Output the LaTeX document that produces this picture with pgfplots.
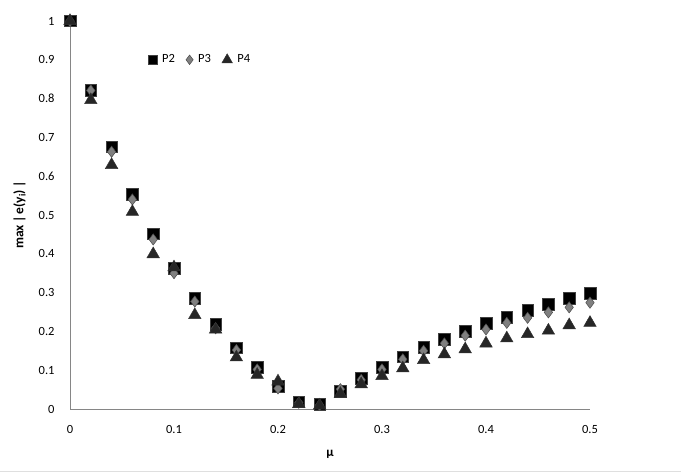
\documentclass[border=0pt]{standalone}
\usepackage{pgfplots}
\pgfplotsset{compat=1.18}
\usepackage{fontspec}
\setmainfont{Carlito}

\definecolor{axgray}{RGB}{134,134,134}
\definecolor{sqblack}{RGB}{0,0,0}
\definecolor{dmgray}{RGB}{128,128,128}
\definecolor{trdark}{RGB}{38,38,38}

\pgfplotstableread{
mu    p2     p3     p4
0.00  1.000  1.000  1.000
0.02  0.821  0.821  0.796
0.04  0.676  0.663  0.629
0.06  0.553  0.540  0.508
0.08  0.452  0.437  0.399
0.10  0.363  0.350  0.365
0.12  0.285  0.277  0.242
0.14  0.219  0.208  0.205
0.16  0.158  0.152  0.133
0.18  0.107  0.102  0.088
0.20  0.059  0.053  0.071
0.22  0.019  0.016  0.013
0.24  0.012  0.010  0.009
0.26  0.045  0.051  0.039
0.28  0.079  0.075  0.064
0.30  0.108  0.102  0.085
0.32  0.135  0.128  0.105
0.34  0.159  0.150  0.126
0.36  0.180  0.169  0.141
0.38  0.201  0.189  0.154
0.40  0.221  0.205  0.169
0.42  0.236  0.222  0.182
0.44  0.255  0.235  0.193
0.46  0.270  0.249  0.202
0.48  0.285  0.262  0.216
0.50  0.298  0.274  0.222
}\errdata

\begin{document}
\fontsize{12.5}{15}\selectfont
\begin{tikzpicture}[x=1pt,y=1pt]
\path[use as bounding box] (0,0) rectangle (681,473);
\draw[gray!25, line width=1pt] (0,1.5) -- (681,1.5);
\begin{axis}[
  at={(70pt,64pt)}, anchor=south west,
  scale only axis,
  width=520pt, height=388pt,
  xmin=0, xmax=0.5, ymin=0, ymax=1,
  axis lines=left,
  axis line style={axgray, line width=0.8pt, -},
  xtick={0,0.1,...,0.5},
  ytick={0,0.1,...,1},
  tick style={draw=none},
  xticklabel style={yshift=-10pt},
  yticklabel style={xshift=-9pt},
  /pgf/number format/assume math mode=true,
  /pgf/number format/fixed,
  ticklabel style={font=\fontsize{12.5}{15}\selectfont},
  clip=false,
  xlabel={\textbf{μ}},
  xlabel style={at={(axis description cs:0.5,0)}, anchor=north, yshift=-37pt, font=\fontsize{13}{15}\selectfont},
  ylabel={\textbf{max\,|\,e(y\textsubscript{i})\,|}},
  ylabel style={at={(axis description cs:0,0.5)}, anchor=south, yshift=40pt, font=\fontsize{13.5}{16}\selectfont},
  legend style={at={(axis cs:0.075,0.9)}, anchor=west, draw=none, fill=none,
    legend columns=3,
    /tikz/every odd column/.append style={column sep=3pt},
    /tikz/every even column/.append style={column sep=9pt},
    font=\fontsize{12.5}{15}\selectfont, inner sep=0pt},
  legend cell align=left,
]
\addplot[only marks, mark=square*, mark size=5.8pt, mark options={fill=sqblack, draw=black!75!white, line width=0.6pt},
  legend image post style={mark size=4.5pt}] table[x=mu, y=p2] {\errdata};
\addlegendentry{P2}
\addplot[only marks, mark=diamond*, mark size=5.6pt, mark options={fill=dmgray, draw=black!70, line width=0.5pt},
  legend image post style={mark size=4.8pt}] table[x=mu, y=p3] {\errdata};
\addlegendentry{P3}
\addplot[only marks, mark=triangle*, mark size=7.2pt, mark options={fill=trdark, draw=black!80, line width=0.5pt},
  legend image post style={mark size=6pt}] table[x=mu, y=p4] {\errdata};
\addlegendentry{P4}
\end{axis}
\end{tikzpicture}
\end{document}
